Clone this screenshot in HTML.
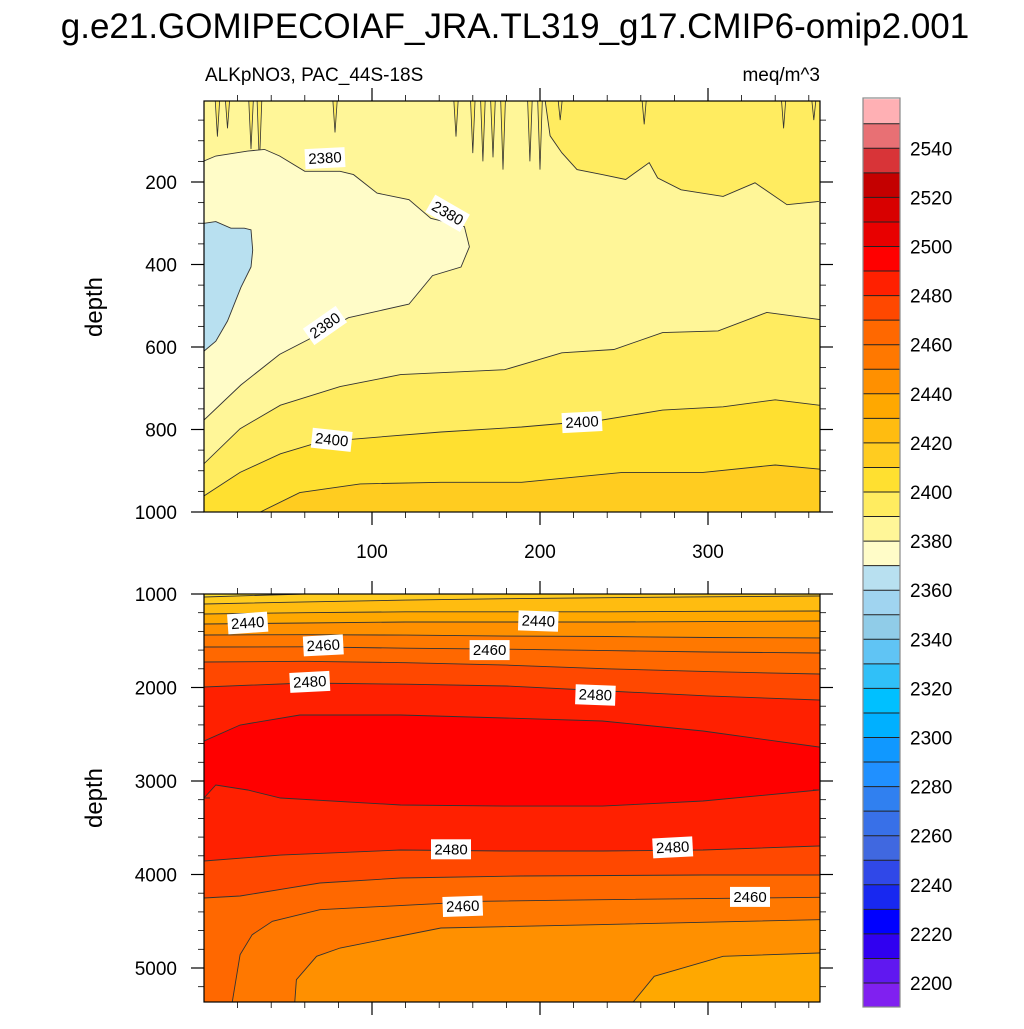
<!DOCTYPE html>
<html><head><meta charset="utf-8"><title>ALKpNO3 contour</title>
<style>
html,body{margin:0;padding:0;background:#fff;}
body{width:1024px;height:1024px;overflow:hidden;font-family:"Liberation Sans",Arial,sans-serif;}
svg text{font-family:"Liberation Sans",Arial,sans-serif;}
</style></head>
<body>
<svg id="chart" width="1024" height="1024" viewBox="0 0 1024 1024" xmlns="http://www.w3.org/2000/svg">
<defs>
<clipPath id="clipTop"><rect x="204" y="101" width="616" height="411"/></clipPath>
<clipPath id="clipBot"><rect x="204" y="594" width="616" height="408"/></clipPath>
</defs>
<text x="515" y="38" font-size="35" text-anchor="middle" fill="#000">g.e21.GOMIPECOIAF_JRA.TL319_g17.CMIP6-omip2.001</text>
<text x="205" y="81" font-size="19" fill="#000">ALKpNO3, PAC_44S-18S</text>
<text x="820" y="81" font-size="19" text-anchor="end" fill="#000">meq/m^3</text>
<g id="topPanel"></g>
<g id="botPanel"></g>
<g id="axes"></g>
<g id="colorbar"></g>
<text transform="translate(102,307) rotate(-90)" font-size="24" text-anchor="middle">depth</text>
<text transform="translate(102,798) rotate(-90)" font-size="24" text-anchor="middle">depth</text>
</svg>
<script>
// ---------- colorbar data ----------
const cbLevels = [2200,2210,2220,2230,2240,2250,2260,2270,2280,2290,2300,2310,2320,2330,2340,2350,2360,2370,2380,2390,2400,2410,2420,2430,2440,2450,2460,2470,2480,2490,2500,2510,2520,2530,2540,2550];
const cbColors = ["#8020f0","#6018f0","#3000f0","#0000ff","#1828f0","#3048e8","#4068e0","#3870e8","#3080f0","#2090ff","#1098ff","#00b0ff","#00c0ff","#30c0f8","#60c4f4","#90cce8","#a0d4f0","#b8e0f0","#fffcc8","#fff698","#ffec60","#ffe030","#ffcc20","#ffbc10","#ffa800","#ff9000","#ff7800","#ff6800","#ff4800","#ff2000","#ff0000","#e80000","#d80000","#c40000","#d83438","#e87074","#ffb0b4"];
const cbTickLabels = [2200,2220,2240,2260,2280,2300,2320,2340,2360,2380,2400,2420,2440,2460,2480,2500,2520,2540];

// ---------- top panel data (days, depth m) ----------
const upper2390Days = [203,206,213,222,237,251,265,270,284,309,328,347,366];
const upper2390Depths = [0,88,129,170,182,194,153,190,219,235,202,255,247];
const pale2380Days = [0,7,26,36,45,60,81,89,103,122,135,155,158,153,136,122,86,62,45,22,0];
const pale2380Depths = [149,137,125,121,137,174,174,182,227,243,288,308,357,406,427,496,529,582,618,692,777];
const blue2370Days = [0,7,16,24,28,29,28,22,14,7,0];
const blue2370Depths = [300,296,312,312,316,365,406,455,537,586,610];
const lower2390Days = [0,21.5,45.5,81,117,179,213,244,273,306,335,366];
const lower2390Depths = [883,798,741,696,667,655,614,606,565,561,516,533];
const c2400Days = [0,21.5,45.5,69,105,141,189,237,273,309,340,366];
const c2400Depths = [961,904,859,830,818,806,794,777,753,745,728,741];
const c2410Days = [0,33.5,57,93,141,189,249,297,340,366];
const c2410Depths = [1000,1000,953,932,928,928,904,904,886,896];
const spikeDays = [8,14,28,33,78,150,160,166,172,178,194,200,212,262,345,363];
const spikeDepths = [90,70,120,160,80,90,130,150,140,170,150,170,50,60,70,50];

// ---------- bottom panel data ----------
const rowDays = [0,60,120,180,240,300,366];
const c2410B = [1032,1000,980,970,970,970,970];
const c2420B = [1107,1085,1065,1050,1040,1030,1021];
const c2430B = [1214,1200,1190,1190,1190,1185,1182];
const c2440B = [1321,1310,1300,1300,1300,1295,1289];
const c2450B = [1438,1435,1440,1450,1455,1465,1470];
const c2460B = [1567,1565,1580,1590,1605,1620,1631];
const c2470B = [1727,1720,1735,1760,1800,1830,1856];
const c2480B = [1995,1952,1965,1984,2037,2090,2134];
const coreTopDays = [0,21.5,57,117,179,237,297,366];
const coreTopDepths = [2572,2401,2294,2294,2326,2358,2465,2636];
const coreBotDays = [366,297,237,179,117,45.5,26,7,0];
const coreBotDepths = [3096,3214,3268,3268,3257,3182,3096,3043,3182];
const low2480Days = [0,45.5,117,179,237,297,366];
const low2480Depths = [3856,3792,3738,3749,3749,3738,3695];
const low2470Days = [0,21.5,69,117,189,297,366];
const low2470Depths = [4251,4230,4091,4037,4016,4005,4005];
const curve2460Days = [366,237,165,69,40.7,28.7,21.5,16.7];
const curve2460Depths = [4244,4270,4287,4377,4501,4644,4858,5374];
const curve2450Days = [366,237,141,81,67,55,54];
const curve2450Depths = [4483,4536,4572,4786,4875,5125,5374];
const curve2440Days = [366,309,268,255];
const curve2440Depths = [4840,4875,5089,5374];

// ---------- labels ----------
const topLabelText = ["2380","2380","2380","2400","2400"];
const topLabelDays = [72,145,72,76,225];
const topLabelDepths = [142,276,548,825,782];
const topLabelAngles = [-3,30,-35,6,-3];
const botLabelText = ["2440","2440","2460","2460","2480","2480","2480","2480","2460","2460"];
const botLabelDays = [26,199,71,170,63,233,147,279,154,325];
const botLabelDepths = [1310,1290,1550,1600,1940,2080,3730,3710,4340,4240];
const botLabelAngles = [-4,2,-3,0,-3,2,0,-3,-2,0];

const xTickVals = [100,200,300];
const topYTicks = [200,400,600,800,1000];
const botYTicks = [1000,2000,3000,4000,5000];

// ---------- scales ----------
const X0 = 204, X1 = 820;
function xs(day){ return 204 + day*1.68; }
function yT(d){ return 99.5 + d*0.4125; }
function yB(d){ return 594 + (d-1000)*0.0935; }

const NS = "http://www.w3.org/2000/svg";
function mk(tag, attrs, parent){ const e = document.createElementNS(NS, tag); for (const k in attrs) e.setAttribute(k, attrs[k]); parent.appendChild(e); return e; }
function pts(days, depths, ys){ return days.map((d,i)=>[xs(d), ys(depths[i])]); }
function ptStr(p){ return p.map(q=>q[0].toFixed(1)+","+q[1].toFixed(1)).join(" "); }

function fillBelow(g, p, bottomY, color, name){
  const ext = [[p[0][0]-6, p[0][1]], ...p, [p[p.length-1][0]+6, p[p.length-1][1]], [X1+6, bottomY+6], [X0-6, bottomY+6]];
  const el = mk("polygon", {points: ptStr(ext), fill: color, stroke: "none"}, g);
  
  
}
function line(g, p, name, extend){
  let q = p;
  if (extend) q = [[p[0][0]-6,p[0][1]], ...p, [p[p.length-1][0]+6,p[p.length-1][1]]];
  const el = mk("polyline", {points: ptStr(q), fill: "none", stroke: "#333", "stroke-width": 0.9}, g);
  
  
}
function poly(g, p, color, name, stroke){
  const el = mk("polygon", {points: ptStr(p), fill: color, stroke: stroke ? "#333" : "none", "stroke-width": 0.9}, g);
  
  
}
function label(g, txt, x, y, ang, name){
  const grp = mk("g", {transform: `translate(${x.toFixed(1)},${y.toFixed(1)}) rotate(${ang})`}, g);
  
  
  mk("rect", {x: -20, y: -10, width: 40, height: 20, fill: "#fff"}, grp);
  const t = mk("text", {x: 0, y: 5, "font-size": 15, "text-anchor": "middle", fill: "#000"}, grp);
  t.textContent = txt;
}

// ---------- top panel ----------
const tp = document.getElementById("topPanel");
const tg = mk("g", {"clip-path": "url(#clipTop)"}, tp);
const bgT = mk("rect", {x: X0, y: 101, width: 616, height: 411, fill: "#fff698"}, tg);


{
  const p = pts(upper2390Days, upper2390Depths, yT);
  poly(tg, [...p, [X1+6, p[p.length-1][1]], [X1+6, 95]], "#ffec60", "band-surface-2390", false);
  line(tg, p, "contour-2390-surface", false);
  spikeDays.forEach((d,i)=>{
    const p2 = [[xs(d-1.5), 95], [xs(d), yT(spikeDepths[i])], [xs(d+1.5), 95]];
    const el = mk("polyline", {points: ptStr(p2), fill: "#ffec60", stroke: "#333", "stroke-width": 0.8}, tg);
    
    
  });
  const pp = pts(pale2380Days, pale2380Depths, yT);
  poly(tg, [[X0-6, pp[0][1]], ...pp, [X0-6, pp[pp.length-1][1]]], "#fffcc8", "band-below-2380", false);
  line(tg, pp, "contour-2380", false);
  const bp = pts(blue2370Days, blue2370Depths, yT);
  poly(tg, [[X0-6, bp[0][1]], ...bp, [X0-6, bp[bp.length-1][1]]], "#b8e0f0", "band-below-2370", false);
  line(tg, bp, "contour-2370", false);
  const l1 = pts(lower2390Days, lower2390Depths, yT);
  fillBelow(tg, l1, 512, "#ffec60", "band-2390-2400");
  line(tg, l1, "contour-2390", true);
  const l2 = pts(c2400Days, c2400Depths, yT);
  fillBelow(tg, l2, 512, "#ffe030", "band-2400-2410");
  line(tg, l2, "contour-2400", true);
  const l3 = pts(c2410Days, c2410Depths, yT);
  fillBelow(tg, l3, 512, "#ffcc20", "band-2410-2420");
  line(tg, l3, "contour-2410", true);
  topLabelText.forEach((t,i)=> label(tg, t, xs(topLabelDays[i]), yT(topLabelDepths[i]), topLabelAngles[i], "contour-label"));
}

// ---------- bottom panel ----------
const bp0 = document.getElementById("botPanel");
const bg = mk("g", {"clip-path": "url(#clipBot)"}, bp0);
const bgB = mk("rect", {x: X0, y: 594, width: 616, height: 408, fill: "#ffe030"}, bg);


{
  const rows = [c2410B, c2420B, c2430B, c2440B, c2450B, c2460B, c2470B, c2480B];
  const rowColors = ["#ffcc20","#ffbc10","#ffa800","#ff9000","#ff7800","#ff6800","#ff4800","#ff2000"];
  const rowNames = ["2410","2420","2430","2440","2450","2460","2470","2480"];
  rows.forEach((r,i)=>{
    const p = pts(rowDays, r, yB);
    fillBelow(bg, p, 1002, rowColors[i], "band-"+rowNames[i]);
    line(bg, p, "contour-"+rowNames[i], true);
  });
  const ct = pts(coreTopDays, coreTopDepths, yB);
  const cb = pts(coreBotDays, coreBotDepths, yB);
  const core = [[X0-6, ct[0][1]], ...ct, [X1+6, ct[ct.length-1][1]], [X1+6, cb[0][1]], ...cb, [X0-6, cb[cb.length-1][1]]];
  poly(bg, core, "#ff0000", "band-2490-2500", false);
  line(bg, ct, "contour-2490-top", true);
  line(bg, cb, "contour-2490-bottom", true);
  const a = pts(low2480Days, low2480Depths, yB);
  fillBelow(bg, a, 1002, "#ff4800", "band-2470-2480-deep");
  line(bg, a, "contour-2480-deep", true);
  const b = pts(low2470Days, low2470Depths, yB);
  fillBelow(bg, b, 1002, "#ff6800", "band-2460-2470-deep");
  line(bg, b, "contour-2470-deep", true);
  const curves = [[curve2460Days, curve2460Depths, "#ff7800", "2460"], [curve2450Days, curve2450Depths, "#ff9000", "2450"], [curve2440Days, curve2440Depths, "#ffa800", "2440"]];
  curves.forEach(c=>{
    const p = pts(c[0], c[1], yB);
    poly(bg, [[X1+6, p[0][1]], ...p, [p[p.length-1][0], 1010], [X1+6, 1010]], c[2], "band-deep-"+c[3], false);
    line(bg, [[X1+6, p[0][1]], ...p], "contour-deep-"+c[3], false);
  });
  botLabelText.forEach((t,i)=> label(bg, t, xs(botLabelDays[i]), yB(botLabelDepths[i]), botLabelAngles[i], "contour-label"));
}

// ---------- axes ----------
const ax = document.getElementById("axes");
function frame(y0, y1, name){
  const r = mk("rect", {x: X0, y: y0, width: X1-X0, height: y1-y0, fill: "none", stroke: "#000", "stroke-width": 1.2}, ax);
  
  
}
frame(101, 512, "upper-panel-frame");
frame(594, 1002, "lower-panel-frame");
function tick(x1,y1,x2,y2,w){ const t = mk("line", {x1,y1,x2,y2, stroke: "#000", "stroke-width": w}, ax);   }
for (let d = 20; d <= 360; d += 20){
  const major = xTickVals.indexOf(d) >= 0;
  const L = major ? 13 : 6, w = major ? 1.2 : 0.8, x = xs(d);
  [[101,-1],[512,1],[594,-1],[1002,1]].forEach(e=> tick(x, e[0], x, e[0]+e[1]*L, w));
}
xTickVals.forEach(v=>{
  const t = mk("text", {x: xs(v), y: 558, "font-size": 19, "text-anchor": "middle"}, ax);
  t.textContent = v;
  
  
});
for (let d = 50; d <= 1000; d += 50){
  const major = topYTicks.indexOf(d) >= 0;
  const L = major ? 13 : 6, w = major ? 1.2 : 0.8, y = yT(d);
  tick(X0, y, X0-L, y, w); tick(X1, y, X1+L, y, w);
}
topYTicks.forEach(v=>{
  const t = mk("text", {x: 177, y: yT(v)+7, "font-size": 19, "text-anchor": "end"}, ax);
  t.textContent = v;
  
  
});
for (let d = 1000; d <= 5300; d += 200){
  const major = botYTicks.indexOf(d) >= 0;
  const L = major ? 13 : 6, w = major ? 1.2 : 0.8, y = yB(d);
  tick(X0, y, X0-L, y, w); tick(X1, y, X1+L, y, w);
}
botYTicks.forEach(v=>{
  const t = mk("text", {x: 177, y: yB(v)+7, "font-size": 19, "text-anchor": "end"}, ax);
  t.textContent = v;
  
  
});

// ---------- colorbar ----------
const cbg = document.getElementById("colorbar");
const CB_TOP = 98, CB_BOX = 24.55;
function cbY(level){ return 983 - (level-2200)/10*CB_BOX; }
cbColors.forEach((c,i)=>{
  const y = 1007.5 - (i+1)*CB_BOX;
  const r = mk("rect", {x: 863, y: y, width: 37, height: CB_BOX, fill: c, stroke: "none"}, cbg);
  
  
});
cbLevels.forEach(l=>{
  const y = cbY(l);
  const s = mk("line", {x1: 863, y1: y, x2: 900, y2: y, stroke: "#222", "stroke-width": 1}, cbg);
  
  
});
const cbo = mk("rect", {x: 863, y: CB_TOP, width: 37, height: 909, fill: "none", stroke: "#888", "stroke-width": 1.2}, cbg);


cbTickLabels.forEach(l=>{
  const t = mk("text", {x: 910, y: cbY(l)+7, "font-size": 19}, cbg);
  t.textContent = l;
  
  
});
</script>
</body></html>
